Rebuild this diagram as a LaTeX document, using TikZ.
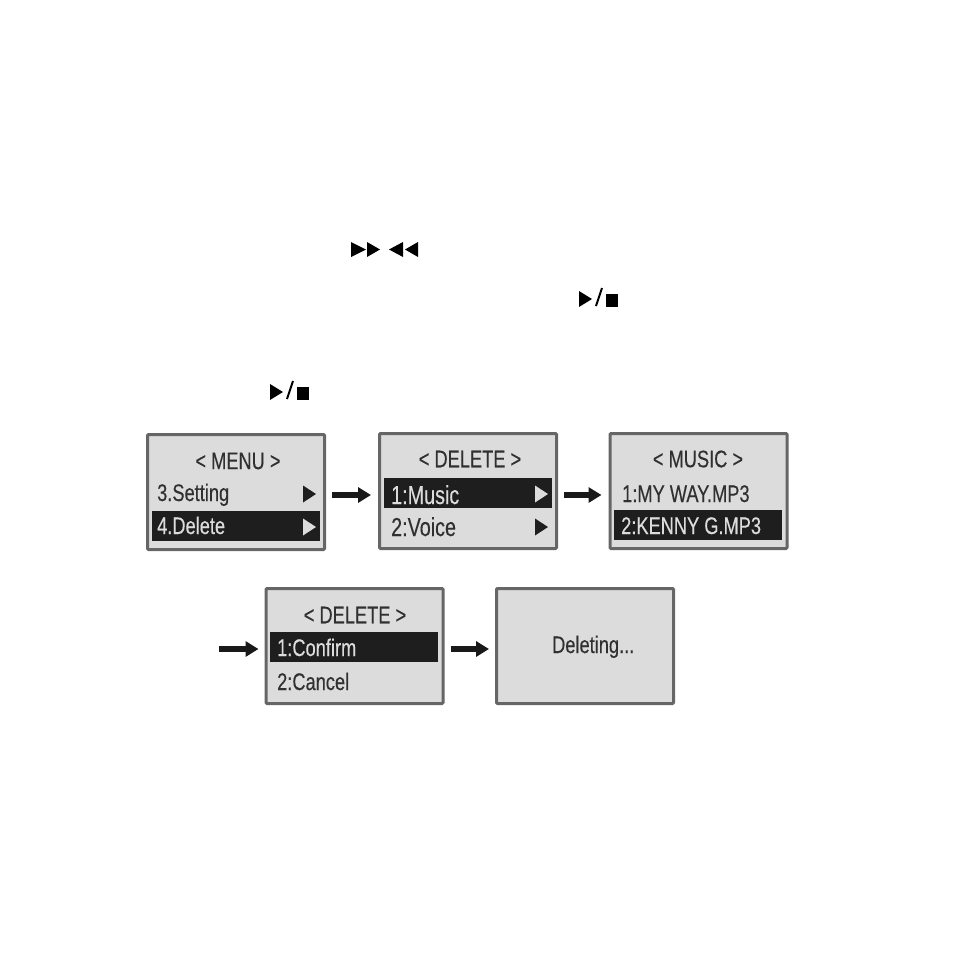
\documentclass[tikz,border=0pt]{standalone}
\usepackage{fontspec}
\usepackage{tikz}
\usetikzlibrary{arrows.meta,calc}
\newfontfamily\lcdfont[FakeStretch=0.76,FakeBold=0.25]{Liberation Sans}
\definecolor{lcdgray}{HTML}{DCDCDC}
\definecolor{lcdedge}{HTML}{666666}
\definecolor{lcdink}{HTML}{303030}
\definecolor{lcdbar}{HTML}{1E1E1E}
\tikzset{
	screen/.style={draw=lcdedge, line width=3pt, fill=lcdgray, rounded corners=1pt, minimum width=177pt, minimum height=115pt, inner sep=0pt},
	selbar/.style={fill=lcdbar, minimum width=168pt, minimum height=30pt, inner sep=0pt},
	lcdtext/.style={text=lcdink, inner sep=0pt, font=\lcdfont\fontsize{24}{24}\selectfont},
	lcdrow/.style={lcdtext, anchor=base west},
	lcdsel/.style={lcdrow, text=lcdgray},
	lcdbig/.style={font=\lcdfont\fontsize{26}{26}\selectfont},
	flowarrow/.style={line width=6pt, draw=black!90, -{Triangle[length=13pt,width=15pt]}},
}
\newcommand{\rowMark}[3]{
	\fill[#1] (#2,#3-8.5) -- (#2+13,#3) -- (#2,#3+8.5) -- cycle;
}
\newcommand{\playStop}[2]{
	\fill (#1,#2) -- (#1+13,#2+8) -- (#1,#2+16) -- cycle;
	\draw[line width=2pt] (#1+17,#2+15) -- (#1+23,#2-3);
	\fill (#1+27,#2+3) rectangle (#1+39,#2+16);
}
\begin{document}
\begin{tikzpicture}[x=1pt, y=-1pt]
	\useasboundingbox (0,0) rectangle (954,954);
%
	\fill (351,242) -- (366,249.5) -- (351,257) -- cycle  (367,242) -- (380,249.5) -- (367,257) -- cycle;
	\fill (403,242) -- (389,249.5) -- (403,257) -- cycle  (418,242) -- (405,249.5) -- (418,257) -- cycle;
	\playStop{579}{291}
	\playStop{270}{384}
%
	\node[screen] (menubox) at (236,492) {};
	\node[screen] (delbox) at (468,491) {};
	\node[screen] (musicbox) at (698.5,491) {};
	\node[screen] (confirmbox) at (354.5,646) {};
	\node[screen] (deletingbox) at (585,646) {};
%
	\node[selbar] (menubar) at (236,526) {};
	\node[selbar] (delbar) at (467.5,493) {};
	\node[selbar] (musicbar) at (698,525) {};
	\node[selbar] (confirmbar) at (354,647) {};
%
	\node[lcdtext] (menutitle) at (238,461) {< MENU >};
	\node[lcdrow] (setting) at (157,501) {3.Setting};
	\node[lcdsel] (delete) at (157,534) {4.Delete};
	\node[lcdtext] (deltitle) at (470,459) {< DELETE >};
	\node[lcdsel, lcdbig] (music) at (391,504) {1:Music};
	\node[lcdrow, lcdbig] (voice) at (391,536) {2:Voice};
	\node[lcdtext] (musictitle) at (698,459) {< MUSIC >};
	\node[lcdrow] (myway) at (622,502) {1:MY WAY.MP3};
	\node[lcdsel] (kenny) at (621,534) {2:KENNY G.MP3};
	\node[lcdtext] (confirmtitle) at (355,615) {< DELETE >};
	\node[lcdsel] (confirm) at (277,656) {1:Confirm};
	\node[lcdrow] (cancel) at (277,690) {2:Cancel};
	\node[lcdrow] (deleting) at (552,653) {Deleting...};
%
	\rowMark{lcdbar}{303}{494}
	\rowMark{lcdgray}{303}{527}
	\rowMark{lcdgray}{535}{494}
	\rowMark{lcdbar}{535}{527}
%
	\coordinate (lead) at (219,649);
	\draw[flowarrow, shorten <=6pt, shorten >=7pt] ([yshift=-3pt]menubox.east) -- ([yshift=-4pt]delbox.west);
	\draw[flowarrow, shorten <=6pt, shorten >=7pt] ([yshift=-4pt]delbox.east) -- ([yshift=-4pt]musicbox.west);
	\draw[flowarrow, shorten >=6pt] (lead) -- (lead -| confirmbox.west);
	\draw[flowarrow, shorten <=6pt, shorten >=6pt] ([yshift=-3pt]confirmbox.east) -- ([yshift=-3pt]deletingbox.west);
\end{tikzpicture}
\end{document}
